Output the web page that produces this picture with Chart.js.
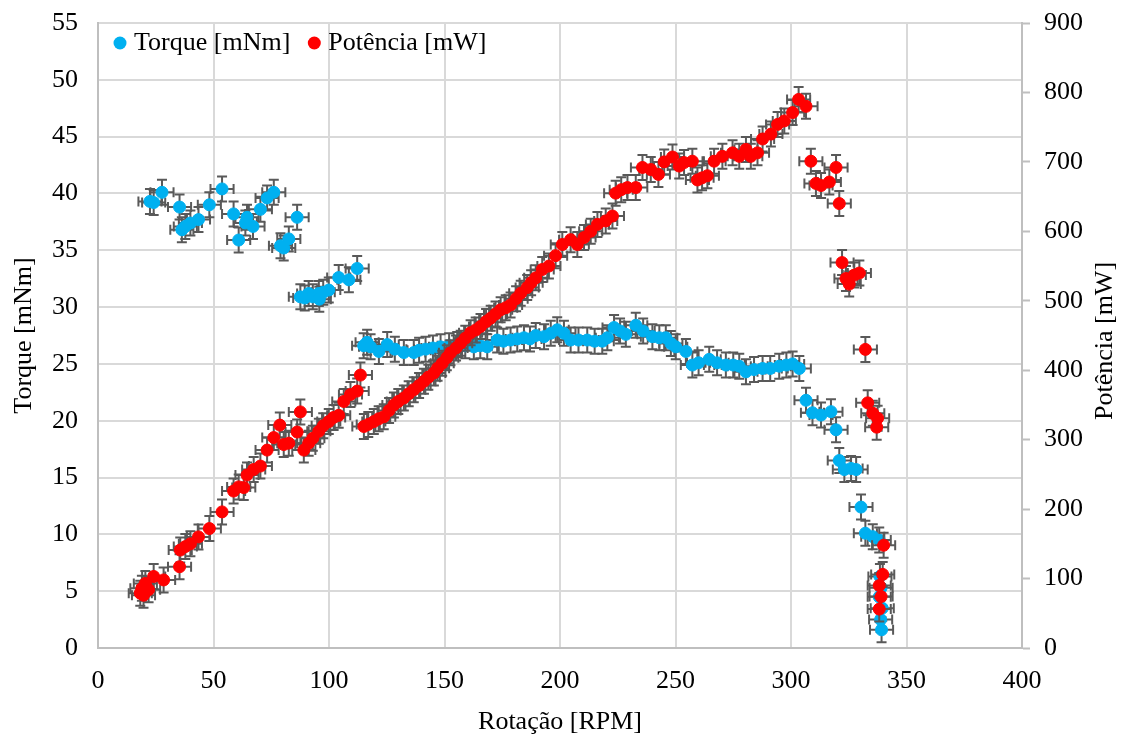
<!DOCTYPE html>
<html>
<head>
<meta charset="utf-8">
<script src="https://cdn.jsdelivr.net/npm/chart.js@4.4.1/dist/chart.umd.min.js"></script>
<style>
  body { margin: 0; background: #fff; }
  #wrap { width: 1123px; height: 740px; }
</style>
</head>
<body>
<div id="wrap"><canvas id="chart" width="1123" height="740"></canvas></div>
<script>
// torque series (RPM, mNm)
var torqueRpm = [22.5, 24.1, 27.7, 35.3, 36.3, 37.8, 40.0, 43.5, 48.2, 53.7, 58.7, 60.9, 63.8, 64.5, 67.1, 70.3, 73.2, 76.1,
  79.0, 80.4, 82.6, 86.2, 87.6, 89.5, 91.2, 93.0, 95.6, 95.8, 97.5, 99.9, 104.2, 108.6, 112.2,
  115.0, 116.5, 118.0, 121.6, 125.2, 128.5, 132.4, 136.7, 139.0, 141.8, 145.0, 148.3, 152.0, 155.5, 159.0, 162.7, 165.5, 168.5,
  172.8, 175.5, 178.6, 181.5, 184.4, 187.0, 189.5, 193.1, 196.0, 198.8, 201.7, 204.6, 208.0, 211.8, 215.0, 218.3, 220.5,
  223.4, 226.0, 228.5, 232.8, 236.0, 240.0, 243.0, 245.8, 248.0, 250.1, 254.5, 257.3, 260.0, 264.6, 268.0, 271.8, 275.0,
  277.6, 280.5, 284.0, 287.7, 291.0, 294.9, 298.0, 300.7, 303.6,
  306.5, 309.3, 313.0, 317.3, 319.5, 320.9, 323.1, 326.0, 328.2, 330.3, 332.2, 335.4, 338.2, 338.5, 339.0, 338.2, 339.5, 338.8, 339.2];
var torque = [39.3, 39.2, 40.1, 38.8, 36.8, 37.1, 37.4, 37.7, 39.0, 40.4, 38.2, 35.9, 37.4, 37.9, 37.1, 38.6, 39.6, 40.1,
  35.4, 35.2, 36.0, 37.9, 30.9, 30.8, 31.2, 30.9, 31.2, 30.7, 31.3, 31.5, 32.6, 32.4, 33.4,
  26.6, 26.9, 26.5, 26.1, 26.7, 26.3, 26.0, 26.0, 26.2, 26.3, 26.4, 26.5, 26.6, 26.7, 26.6, 26.5, 26.6, 26.5,
  27.1, 27.0, 27.1, 27.2, 27.3, 27.2, 27.5, 27.4, 27.7, 28.0, 27.7, 27.1, 27.1, 27.1, 27.0, 27.0, 27.3,
  28.2, 27.9, 27.6, 28.4, 27.9, 27.4, 27.3, 27.3, 26.8, 26.5, 26.1, 24.9, 25.1, 25.4, 25.1, 24.9, 24.9,
  24.8, 24.3, 24.5, 24.6, 24.6, 24.8, 24.9, 25.0, 24.6,
  21.8, 20.7, 20.5, 20.8, 19.2, 16.5, 15.7, 15.8, 15.7, 12.4, 10.1, 9.8, 9.5, 6.3, 5.3, 4.5, 3.5, 2.5, 1.6];

// power series (RPM, mW)
var powerRpm = [18.3, 19.0, 19.7, 20.5, 21.9, 24.1, 28.4, 35.3, 35.6, 37.8, 40.0, 43.5, 48.2, 53.7, 58.7, 60.9, 63.1, 64.5,
  67.4, 70.3, 73.2, 76.1, 78.7, 80.4, 82.6, 86.2, 87.6, 89.1, 91.2, 93.0, 95.6, 97.5, 99.9, 102.0, 104.2, 106.4, 109.3, 112.2, 113.6,
  115.1, 117.0, 119.4, 121.5, 123.7, 126.0, 128.1, 130.0, 132.4, 134.5, 136.7, 139.0, 141.1, 143.0, 145.4, 147.0, 149.0,
  151.0, 152.6, 155.0, 157.0, 159.0, 161.3, 163.5, 165.6, 168.0, 170.0, 172.1, 174.3, 176.5, 178.6, 181.0, 183.0, 185.8,
  187.5, 189.5, 192.3, 195.2, 198.1, 201.0, 204.6, 207.5, 210.4, 213.3, 216.2, 219.8, 222.7, 224.1, 226.5, 229.2, 232.8,
  235.7, 239.3, 242.6, 245.1, 248.7, 251.6, 253.7, 257.3, 259.5, 261.5, 263.8, 266.7, 270.3, 274.7, 277.6, 280.5, 282.6,
  285.5, 287.7, 291.3, 294.2, 297.1, 300.7, 303.3, 306.5,
  308.6, 310.8, 313.0, 316.6, 319.5, 320.9, 322.1, 323.8, 325.2, 327.4, 329.6, 332.2, 333.2, 335.4, 337.5, 337.1,
  340.1, 339.7, 338.2, 339.0, 338.2];
var power = [79, 86, 76, 93, 84, 103, 98, 117, 141, 146, 150, 160, 172, 196, 226, 232, 231, 249,
  257, 262, 285, 303, 321, 293, 295, 311, 340, 285, 295, 302, 312, 320, 326, 332, 335, 355, 365, 370, 393,
  319, 322, 326, 330, 333, 342, 350, 355, 360, 366, 372, 378, 384, 390, 396, 403, 410,
  418, 425, 432, 439, 446, 454, 458, 463, 470, 475, 481, 487, 490, 494, 503, 511, 519,
  526, 533, 545, 550, 565, 581, 588, 581, 591, 600, 610, 615, 622, 655, 660, 663, 663,
  692, 689, 682, 700, 707, 694, 699, 701, 674, 677, 680, 701, 708, 713, 708, 718, 708,
  713, 733, 740, 754, 759, 771, 790, 780,
  701, 669, 666, 671, 692, 640, 555, 532, 524, 537, 540, 430, 353, 338, 331, 318,
  148, 106, 90, 74, 56];

// error bar half-widths
var rpmErr = 5;
var torqueErr = 1.1;
var powerErr = 18;

var xTicks = [0, 50, 100, 150, 200, 250, 300, 350, 400];
var FONT = '"Liberation Serif", "Times New Roman", serif';

function toPoints(xs, ys) {
  return xs.map(function(x, i) { return { x: x, y: ys[i] }; });
}

// draws x/y error bars under each dataset's markers
var errorBars = {
  id: 'errorBars',
  beforeDatasetDraw: function(chart, args) {
    var ds = chart.data.datasets[args.index];
    var meta = args.meta;
    var xs = meta.xScale, ys = meta.yScale;
    var ctx = chart.ctx;
    var cap = 5;
    ctx.save();
    ctx.strokeStyle = '#595959';
    ctx.lineWidth = 2;
    ds.data.forEach(function(p) {
      var px = xs.getPixelForValue(p.x), py = ys.getPixelForValue(p.y);
      var x0 = xs.getPixelForValue(p.x - rpmErr), x1 = xs.getPixelForValue(p.x + rpmErr);
      var y0 = ys.getPixelForValue(p.y - ds.yErr), y1 = ys.getPixelForValue(p.y + ds.yErr);
      ctx.beginPath();
      ctx.moveTo(x0, py); ctx.lineTo(x1, py);
      ctx.moveTo(x0, py - cap); ctx.lineTo(x0, py + cap);
      ctx.moveTo(x1, py - cap); ctx.lineTo(x1, py + cap);
      ctx.moveTo(px, y0); ctx.lineTo(px, y1);
      ctx.moveTo(px - cap, y0); ctx.lineTo(px + cap, y0);
      ctx.moveTo(px - cap, y1); ctx.lineTo(px + cap, y1);
      ctx.stroke();
    });
    ctx.restore();
  }
};

// legend inside the plot + right axis title reading bottom-to-top
var extras = {
  id: 'extras',
  afterDraw: function(chart) {
    var ctx = chart.ctx, area = chart.chartArea;
    ctx.save();
    ctx.font = '26px ' + FONT;
    ctx.fillStyle = '#000';
    ctx.textBaseline = 'middle';
    var x = area.left + 22, y = 43;
    chart.data.datasets.forEach(function(ds) {
      ctx.beginPath();
      ctx.fillStyle = ds.backgroundColor;
      ctx.arc(x, y, 6.5, 0, Math.PI * 2);
      ctx.fill();
      ctx.fillStyle = '#000';
      ctx.textAlign = 'left';
      ctx.fillText(ds.label, x + 14, y);
      x += 14 + ctx.measureText(ds.label).width + 24;
    });
    ctx.translate(1105, 341);
    ctx.rotate(-Math.PI / 2);
    ctx.textAlign = 'center';
    ctx.fillText('Potência [mW]', 0, 0);
    ctx.restore();
  }
};

// keep the vertical axes from pushing the plot area down
function fixVertical(width) {
  return function(s) {
    s.width = width;
    s.paddingTop = 10;
    s.paddingBottom = 10;
  };
}

var ctx = document.getElementById('chart');
new Chart(ctx, {
  type: 'scatter',
  data: {
    datasets: [
      {
        label: 'Torque [mNm]',
        data: toPoints(torqueRpm, torque),
        yErr: torqueErr,
        yAxisID: 'y',
        backgroundColor: '#00B0F0',
        borderColor: '#00B0F0',
        pointRadius: 6,
        pointHoverRadius: 6,
        order: 1
      },
      {
        label: 'Potência [mW]',
        data: toPoints(powerRpm, power),
        yErr: powerErr,
        yAxisID: 'y2',
        backgroundColor: '#FF0000',
        borderColor: '#FF0000',
        pointRadius: 6,
        pointHoverRadius: 6,
        order: 0
      }
    ]
  },
  options: {
    responsive: false,
    animation: false,
    layout: { padding: { top: 23, left: 0, right: 0, bottom: 0 } },
    plugins: {
      legend: { display: false },
      tooltip: { enabled: false }
    },
    scales: {
      x: {
        type: 'linear',
        min: 0,
        max: 400,
        afterBuildTicks: function(s) { s.ticks = xTicks.map(function(v) { return { value: v }; }); },
        afterFit: function(s) { s.height = 92; },
        grid: { color: '#D9D9D9', lineWidth: 2, drawTicks: false },
        border: { color: '#BFBFBF', width: 2 },
        ticks: { color: '#000', padding: 18, font: { family: FONT, size: 26 } },
        title: { display: true, text: 'Rotação [RPM]', color: '#000', padding: { top: 0, bottom: 2 }, font: { family: FONT, size: 26 } }
      },
      y: {
        position: 'left',
        min: 0,
        max: 55,
        afterFit: fixVertical(98),
        grid: { color: '#D9D9D9', lineWidth: 2, drawTicks: false },
        border: { color: '#BFBFBF', width: 2 },
        ticks: { stepSize: 5, color: '#000', padding: 20, font: { family: FONT, size: 26 } },
        title: { display: true, text: 'Torque [mNm]', color: '#000', padding: 9, font: { family: FONT, size: 26 } }
      },
      y2: {
        position: 'right',
        min: 0,
        max: 900,
        afterFit: fixVertical(101),
        grid: { drawOnChartArea: false, drawTicks: true, tickLength: 8, tickColor: '#BFBFBF', tickWidth: 2 },
        border: { color: '#BFBFBF', width: 2 },
        ticks: { stepSize: 100, color: '#000', padding: 14, font: { family: FONT, size: 26 } }
      }
    }
  },
  plugins: [errorBars, extras]
});
</script>
</body>
</html>
